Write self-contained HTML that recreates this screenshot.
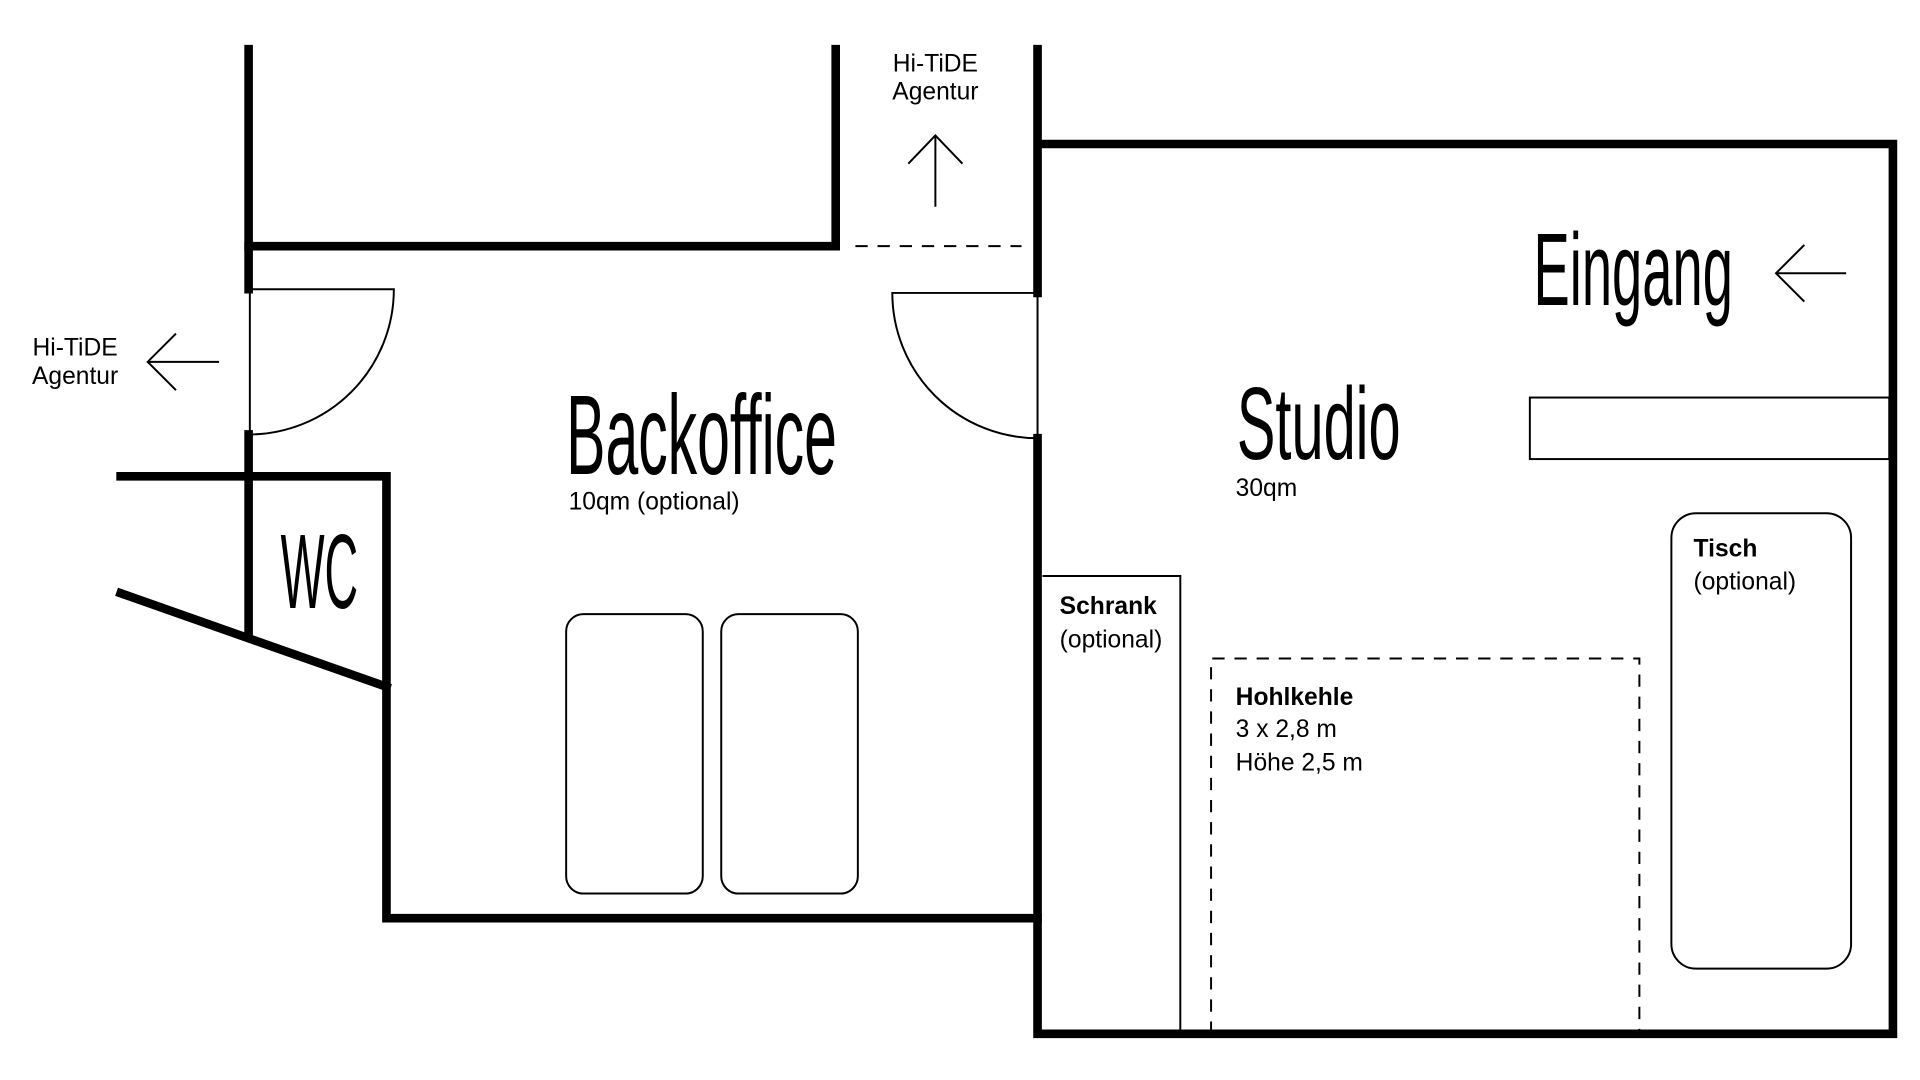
<!DOCTYPE html>
<html><head><meta charset="utf-8"><style>
html,body{margin:0;padding:0;background:#fff;width:1920px;height:1080px;overflow:hidden}
svg{display:block}
.w{stroke:#000;stroke-width:7;fill:none;stroke-linecap:square}
.t{stroke:#000;stroke-width:1.6;fill:none}
.s{font-family:"Liberation Sans",sans-serif;font-size:20px;fill:#000}
.b{font-family:"Liberation Sans",sans-serif;font-size:20px;font-weight:bold;fill:#000}
.c{font-family:"Liberation Sans Narrow","Liberation Sans",sans-serif;fill:#000}
</style></head><body>
<svg width="1920" height="1080" viewBox="0 0 1560 877.5" preserveAspectRatio="none">
<!-- walls -->
<path class="w" d="M202,40 V235 M202,353 V517"/>
<path class="w" d="M202,200 H679 V40"/>
<path class="w" d="M843,40 V238 M843,356 V840 H1538 V117 H843"/>
<path class="w" d="M843,746 H314 V387 H98"/>
<path class="w" d="M98,482 L314,558"/>
<path class="t" d="M695,200 H830" stroke-dasharray="10,8"/>
<!-- doors -->
<path class="t" d="M203,235 V353 M202,235 H320 A118,118 0 0 1 202,353"/>
<path class="t" d="M843,238 V356 M843,238 H725 A118,118 0 0 0 843,356"/>
<!-- furniture -->
<rect class="t" x="1243" y="323" width="292" height="50"/>
<rect class="t" x="1358" y="417" width="146" height="370" rx="20"/>
<rect class="t" x="460" y="499" width="111" height="227" rx="14"/>
<rect class="t" x="586" y="499" width="111" height="227" rx="14"/>
<path class="t" d="M847,468 H959 V840"/>
<path class="t" d="M984,840 V535 H1332 V840" stroke-dasharray="10,8"/>
<!-- arrows -->
<path class="t" d="M760,168 V110 M738,133 L760,110 L782,133"/>
<path class="t" d="M178,294 H120 M143,271 L120,294 L143,317"/>
<path class="t" d="M1500,222 H1443 M1466,199 L1443,222 L1466,245"/>
<!-- texts -->
<text class="c" x="460" y="385" font-size="92" textLength="220" lengthAdjust="spacingAndGlyphs">Backoffice</text>
<text class="c" x="1005" y="373" font-size="84" textLength="133" lengthAdjust="spacingAndGlyphs">Studio</text>
<text class="c" x="1246" y="248" font-size="84" textLength="162" lengthAdjust="spacingAndGlyphs">Eingang</text>
<text class="c" x="228" y="494" font-size="86" textLength="63" lengthAdjust="spacingAndGlyphs">WC</text>
<text class="s" x="462" y="414">10qm (optional)</text>
<text class="s" x="1004" y="403">30qm</text>
<text class="s" x="760" y="58" text-anchor="middle">Hi-TiDE</text>
<text class="s" x="760" y="81" text-anchor="middle">Agentur</text>
<text class="s" x="61" y="289" text-anchor="middle">Hi-TiDE</text>
<text class="s" x="61" y="312" text-anchor="middle">Agentur</text>
<text class="b" x="861" y="499">Schrank</text>
<text class="s" x="861" y="526">(optional)</text>
<text class="b" x="1376" y="452">Tisch</text>
<text class="s" x="1376" y="479">(optional)</text>
<text class="b" x="1004" y="573">Hohlkehle</text>
<text class="s" x="1004" y="599">3 x 2,8 m</text>
<text class="s" x="1004" y="626">Höhe 2,5 m</text>
</svg>
</body></html>
